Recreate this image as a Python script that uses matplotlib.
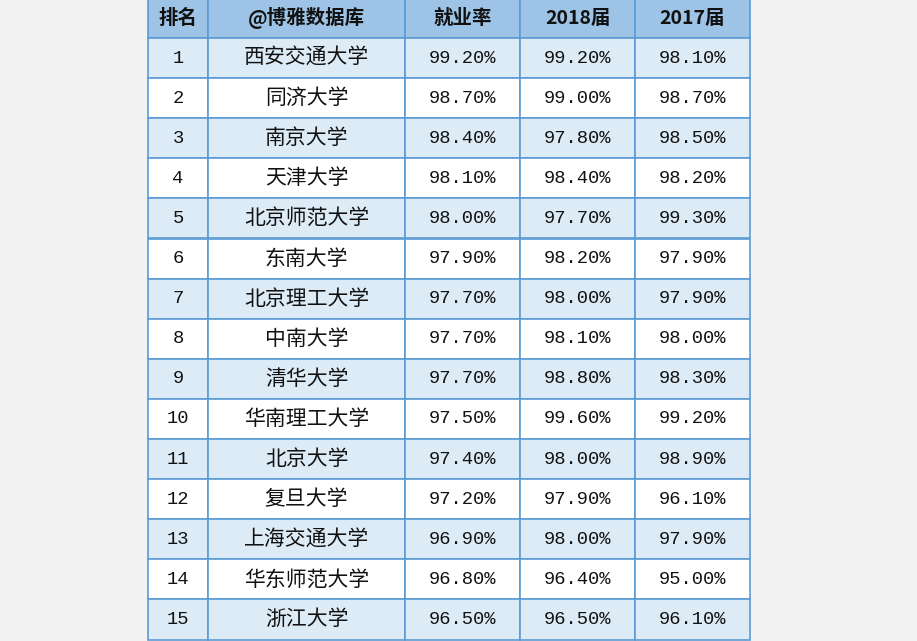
import matplotlib.pyplot as plt
from matplotlib.patches import Rectangle

headers = ['排名', '@博雅数据库', '就业率', '2018届', '2017届']
ranks = [str(i) for i in range(1, 16)]
schools = ['西安交通大学', '同济大学', '南京大学', '天津大学', '北京师范大学', '东南大学',
           '北京理工大学', '中南大学', '清华大学', '华南理工大学', '北京大学', '复旦大学',
           '上海交通大学', '华东师范大学', '浙江大学']
rate = ['99.20%', '98.70%', '98.40%', '98.10%', '98.00%', '97.90%', '97.70%', '97.70%',
        '97.70%', '97.50%', '97.40%', '97.20%', '96.90%', '96.80%', '96.50%']
y2018 = ['99.20%', '99.00%', '97.80%', '98.40%', '97.70%', '98.20%', '98.00%', '98.10%',
         '98.80%', '99.60%', '98.00%', '97.90%', '98.00%', '96.40%', '96.50%']
y2017 = ['98.10%', '98.70%', '98.50%', '98.20%', '99.30%', '97.90%', '97.90%', '98.00%',
         '98.30%', '99.20%', '98.90%', '96.10%', '97.90%', '95.00%', '96.10%']

W, H = 917, 641
fig = plt.figure(figsize=(W / 100, H / 100), dpi=100)
fig.patch.set_facecolor('#f2f2f2')
ax = fig.add_axes([0, 0, 1, 1])
ax.set_xlim(0, W)
ax.set_ylim(H, 0)
ax.axis('off')

xs = [148, 208, 405, 520, 635, 750]
rowh = 40.1
top = 38
cjk = 'Noto Sans CJK SC'
mono = 'Liberation Mono'

def cell_row(y0, h, vals, color, bold=False):
    for i, v in enumerate(vals):
        ax.add_patch(Rectangle((xs[i], y0), xs[i + 1] - xs[i], h, facecolor=color,
                               edgecolor='#5b9bd5', lw=1.2))
        if bold:
            fam, fs = cjk, 14
        elif i == 1:
            fam, fs = cjk, 15
        else:
            fam, fs = mono, 13.5
        ax.text((xs[i] + xs[i + 1]) / 2, y0 + h / 2, v, ha='center', va='center',
                fontsize=fs, family=fam, fontweight='bold' if bold else 'normal', color='#111111')

cell_row(-2, top + 2, headers, '#9dc3e6', bold=True)
for r in range(15):
    color = '#ddebf7' if r % 2 == 0 else 'white'
    cell_row(top + r * rowh, rowh, [ranks[r], schools[r], rate[r], y2018[r], y2017[r]], color)

fig.savefig('out.png', dpi=100, facecolor=fig.get_facecolor())
